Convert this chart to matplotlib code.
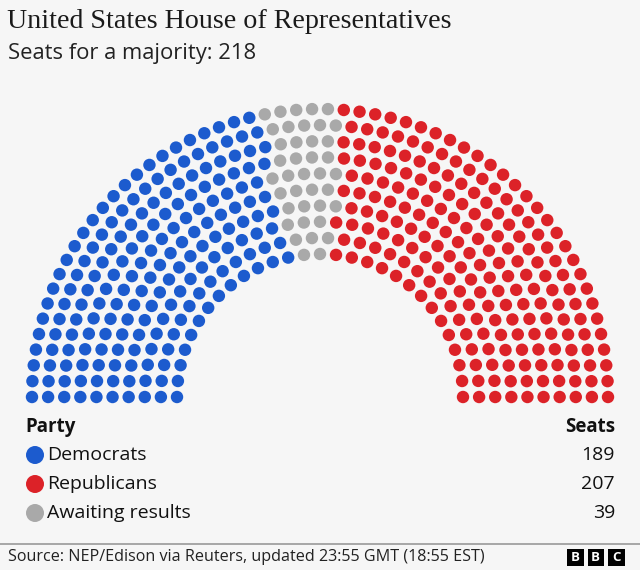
import numpy as np
import matplotlib.pyplot as plt
from matplotlib.patches import Rectangle, Circle

title = 'United States House of Representatives'
subtitle = 'Seats for a majority: 218'
source = 'Source: NEP/Edison via Reuters, updated 23:55 GMT (18:55 EST)'

parties = ['Democrats', 'Republicans', 'Awaiting results']
seats = [189, 207, 39]
colours = ['#1c5bce', '#dc2228', '#a9a9a9']
# order of the blocks round the arc, left to right
arc_order = ['Democrats', 'Awaiting results', 'Republicans']

n_rows = 10
bg = '#f6f6f6'
sans = ['Open Sans', 'DejaVu Sans']

# hemicycle geometry (pixels)
cx, cy = 320, 397
r_in, r_out = 143, 288
radii = np.linspace(r_in, r_out, n_rows)

# seats per row proportional to radius, largest remainder
total = sum(seats)
raw = total * radii / radii.sum()
per_row = np.floor(raw).astype(int)
rest = total - per_row.sum()
per_row[np.argsort(raw - per_row)[::-1][:rest]] += 1

xs, ys, angs = [], [], []
for r, n in zip(radii, per_row):
    a = np.linspace(np.pi, 0, n)
    xs.extend(cx + r * np.cos(a))
    ys.extend(cy - r * np.sin(a))
    angs.extend(a)
xs, ys, angs = np.array(xs), np.array(ys), np.array(angs)
order = np.argsort(-angs, kind='stable')

seat_col = []
for p in arc_order:
    i = parties.index(p)
    seat_col += [colours[i]] * seats[i]
cols = np.empty(total, dtype=object)
cols[order] = seat_col

fig = plt.figure(figsize=(6.4, 5.7), dpi=100, facecolor=bg)
ax = fig.add_axes([0, 0, 1, 1])
ax.set_xlim(0, 640)
ax.set_ylim(570, 0)
ax.axis('off')
ax.set_facecolor(bg)

ax.scatter(xs, ys, s=80, c=list(cols), linewidths=0)

ax.text(7, 21, title, fontsize=20.2, family='Liberation Serif', color='#1a1a1a',
        va='center', ha='left')
ax.text(8, 53, subtitle, fontsize=15.8, family=sans, color='#222222',
        va='center', ha='left')

# legend table
ax.text(25, 427, 'Party', fontsize=13.5, family=sans, weight='bold',
        color='#111111', va='center')
ax.text(615, 427, 'Seats', fontsize=13.5, family=sans, weight='bold',
        color='#111111', va='center', ha='right')
for k, (p, s, c) in enumerate(zip(parties, seats, colours)):
    y = 455 + k * 29
    ax.add_patch(Circle((35, y), 9, color=c, lw=0))
    ax.text(47, y, p, fontsize=14, family=sans, color='#111111', va='center')
    ax.text(615, y, str(s), fontsize=14, family=sans, color='#111111',
            va='center', ha='right')

# footer
ax.plot([0, 640], [544, 544], color='#999999', lw=1.2)
ax.text(8, 557, source, fontsize=11.6, family=sans, color='#222222',
        va='center')
for j, ch in enumerate('BBC'):
    x0 = 567 + j * 20.5
    ax.add_patch(Rectangle((x0, 549), 16.5, 17, color='black', lw=0))
    ax.text(x0 + 8.25, 557.8, ch, fontsize=9.5, family=sans, weight='bold',
            color='white', ha='center', va='center')

fig.savefig('out.png', dpi=100, facecolor=bg)
